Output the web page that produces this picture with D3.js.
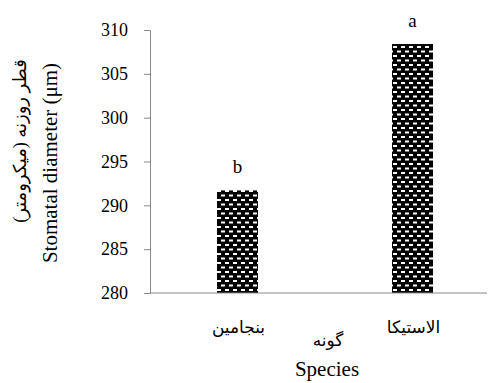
<html>
<head>
<script src="https://cdn.jsdelivr.net/npm/d3@7"></script>
<style>
  body { margin: 0; background: #fff; }
  svg text { font-family: "Liberation Serif", "Times New Roman", "DejaVu Sans", serif; fill: #000; }
</style>
</head>
<body>
<div id="chartContainer"></div>
<script>
// data
var species = ["بنجامین", "الاستیکا"];
var diameter = [291.7, 308.4];
var letters = ["b", "a"];
var yTicks = [280, 285, 290, 295, 300, 305, 310];

var serif = "'Liberation Serif', 'Times New Roman', 'DejaVu Sans', serif";

var svg = d3.select("#chartContainer").append("svg")
  .attr("width", 497).attr("height", 383);

// hatch pattern like the excel fill
var defs = svg.append("defs");
var pat = defs.append("pattern")
  .attr("id", "dots").attr("patternUnits", "userSpaceOnUse")
  .attr("width", 8).attr("height", 9);
pat.append("rect").attr("width", 8).attr("height", 9).attr("fill", "#000");
pat.append("rect").attr("x", 1).attr("y", 1).attr("width", 4).attr("height", 2).attr("fill", "#fff");
pat.append("rect").attr("x", 5).attr("y", 5.5).attr("width", 4).attr("height", 2).attr("fill", "#fff");
pat.append("rect").attr("x", -3).attr("y", 5.5).attr("width", 4).attr("height", 2).attr("fill", "#fff");

var y = d3.scaleLinear().domain([280, 310]).range([293, 30]);
var x = d3.scaleBand().domain(species).range([150, 500]).padding(0);
var barW = 41;

// y axis
var yAxis = svg.append("g").attr("transform", "translate(150,0)")
  .call(d3.axisLeft(y).tickValues(yTicks).tickSize(6).tickPadding(16).tickFormat(d3.format("d")));
yAxis.attr("font-family", serif).attr("font-size", 18);
yAxis.select(".domain").attr("stroke", "#888");
yAxis.selectAll(".tick line").attr("stroke", "#888");
yAxis.selectAll(".tick text")
  .style("font-family", serif)
  .style("font-size", "18px").attr("fill", "#000");

// bars
svg.selectAll(".bar").data(diameter).enter().append("rect")
  .attr("x", function(d, i) { return x(species[i]) + x.bandwidth() / 2 - barW / 2; })
  .attr("y", function(d) { return y(d); })
  .attr("width", barW)
  .attr("height", function(d) { return y(280) - y(d); })
  .attr("fill", "url(#dots)");

// x axis line
svg.append("line").attr("x1", 150).attr("x2", 487)
  .attr("y1", y(280)).attr("y2", y(280)).attr("stroke", "#888");

// significance letters
svg.selectAll(".lbl").data(letters).enter().append("text")
  .attr("x", function(d, i) { return x(species[i]) + x.bandwidth() / 2; })
  .attr("y", function(d, i) { return y(diameter[i]) - 17; })
  .attr("text-anchor", "middle")
  .style("font-size", "19px")
  .text(function(d) { return d; });

// category labels
svg.selectAll(".cat").data(species).enter().append("text")
  .attr("x", function(d) { return x(d) + x.bandwidth() / 2 + 1; })
  .attr("y", 333)
  .attr("text-anchor", "middle")
  .style("font-size", "17px")
  .text(function(d) { return d; });

// axis titles
svg.append("text").attr("x", 328).attr("y", 346).attr("text-anchor", "middle")
  .style("font-size", "17px").text("گونه");
svg.append("text").attr("x", 327).attr("y", 376).attr("text-anchor", "middle")
  .style("font-size", "21px").text("Species");

svg.append("text").attr("transform", "translate(57,163) rotate(-90)")
  .attr("text-anchor", "middle").style("font-size", "21px")
  .text("Stomatal diameter  (μm)");
svg.append("text").attr("transform", "translate(26,141) rotate(-90)")
  .attr("text-anchor", "middle").style("font-size", "18px")
  .text("قطر روزنه (میکرومتر)");
</script>
</body>
</html>
